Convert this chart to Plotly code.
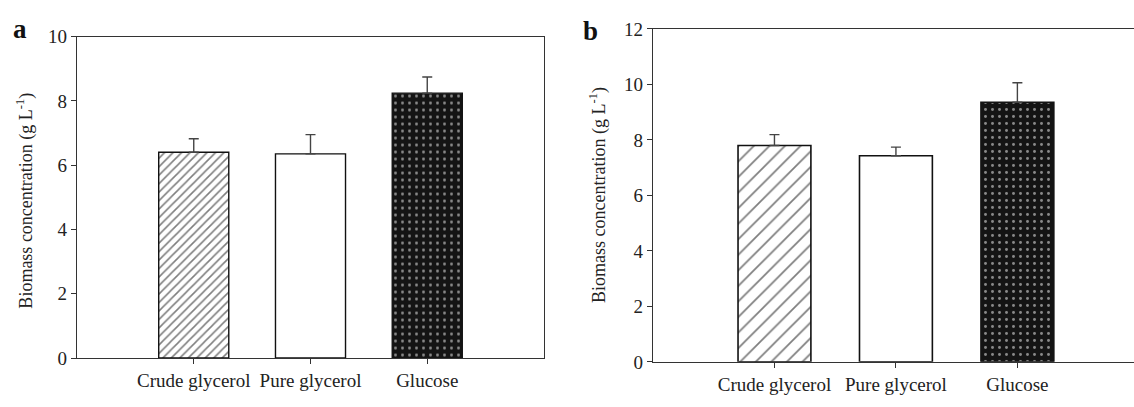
import plotly.graph_objects as go

categories = ["Crude glycerol", "Pure glycerol", "Glucose"]
biomass_a = [6.40, 6.35, 8.24]
error_a = [0.42, 0.60, 0.50]
biomass_b = [7.80, 7.43, 9.36]
error_b = [0.39, 0.31, 0.70]
yticks_a = [0, 2, 4, 6, 8, 10]
yticks_b = [0, 2, 4, 6, 8, 10, 12]

W, H = 1134, 407
FONT = "Liberation Serif, Times New Roman, serif"
AX = "#333333"
DARK = "#141414"

styles = [
    dict(bg="white", fg="#000000", shape="/", line="#111111"),
    dict(bg="white", fg="#000000", shape="", line="#111111"),
    dict(bg=DARK, fg="white", shape=".", line=DARK),
]

fig = go.Figure()

def add_panel(values, errors, xa, ya, hatch_size, hatch_sol, lw):
    for i, cat in enumerate(categories):
        st = styles[i]
        if st["shape"] == "/":
            pat = dict(shape="/", fgcolor=st["fg"], bgcolor=st["bg"], size=hatch_size,
                       solidity=hatch_sol, fillmode="overlay")
        elif st["shape"] == ".":
            pat = dict(shape=".", fgcolor=st["fg"], bgcolor=st["bg"], size=7,
                       solidity=0.14, fillmode="overlay")
        else:
            pat = dict(shape="")
        fig.add_trace(go.Bar(
            x=[cat], y=[values[i]], width=0.6, xaxis=xa, yaxis=ya,
            marker=dict(color=st["bg"], line=dict(color=st["line"], width=lw), pattern=pat),
            error_y=dict(type="data", symmetric=False, array=[errors[i]], arrayminus=[0],
                         color="#444444", thickness=1.4, width=5),
            showlegend=False,
        ))

add_panel(biomass_a, error_a, "x", "y", 6, 0.26, 1.4)
add_panel(biomass_b, error_b, "x2", "y2", 11, 0.16, 1.6)

tickfont = dict(family=FONT, size=19, color="#222222")
common_x = dict(type="category", categoryorder="array", categoryarray=categories,
                showline=True, linecolor=AX, linewidth=1.4,
                ticks="outside", ticklen=5, tickcolor=AX, tickfont=tickfont,
                showgrid=False, zeroline=False)
common_y = dict(showline=True, linecolor=AX, linewidth=1.4,
                ticks="outside", ticklen=5, tickcolor=AX, tickfont=tickfont,
                showgrid=False, zeroline=False)

fig.update_layout(
    width=W, height=H,
    margin=dict(l=0, r=0, t=0, b=0),
    paper_bgcolor="white", plot_bgcolor="white",
    font=dict(family=FONT, color="#222222"),
    barmode="overlay",
    xaxis=dict(common_x, domain=[77 / W, 544 / W], range=[-1, 3], anchor="y", mirror=True),
    yaxis=dict(common_y, domain=[1 - 367 / H, 1 - 28 / H], range=[0, 10],
               tickvals=yticks_a, anchor="x", mirror=True),
    xaxis2=dict(common_x, domain=[653 / W, 1.0], range=[-1, 2.96], anchor="y2", mirror=True),
    yaxis2=dict(common_y, domain=[1 - 371 / H, 1 - 20 / H], range=[0, 12],
                tickvals=yticks_b, anchor="x2"),
)

ytitle = "Biomass concentration (g L<sup>-1</sup>)"
fig.add_annotation(text=ytitle, xref="paper", yref="paper", x=25 / W, y=1 - 201 / H,
                   textangle=-90, showarrow=False, xanchor="center", yanchor="middle",
                   font=dict(family=FONT, size=18, color="#222222"))
fig.add_annotation(text=ytitle, xref="paper", yref="paper", x=598 / W, y=1 - 195 / H,
                   textangle=-90, showarrow=False, xanchor="center", yanchor="middle",
                   font=dict(family=FONT, size=18, color="#222222"))
fig.add_annotation(text="<b>a</b>", xref="paper", yref="paper", x=20 / W, y=1 - 20 / H,
                   showarrow=False, xanchor="center", yanchor="middle",
                   font=dict(family=FONT, size=27, color="#111111"))
fig.add_annotation(text="<b>b</b>", xref="paper", yref="paper", x=590 / W, y=1 - 22 / H,
                   showarrow=False, xanchor="center", yanchor="middle",
                   font=dict(family=FONT, size=27, color="#111111"))

fig.write_html("out.html")
